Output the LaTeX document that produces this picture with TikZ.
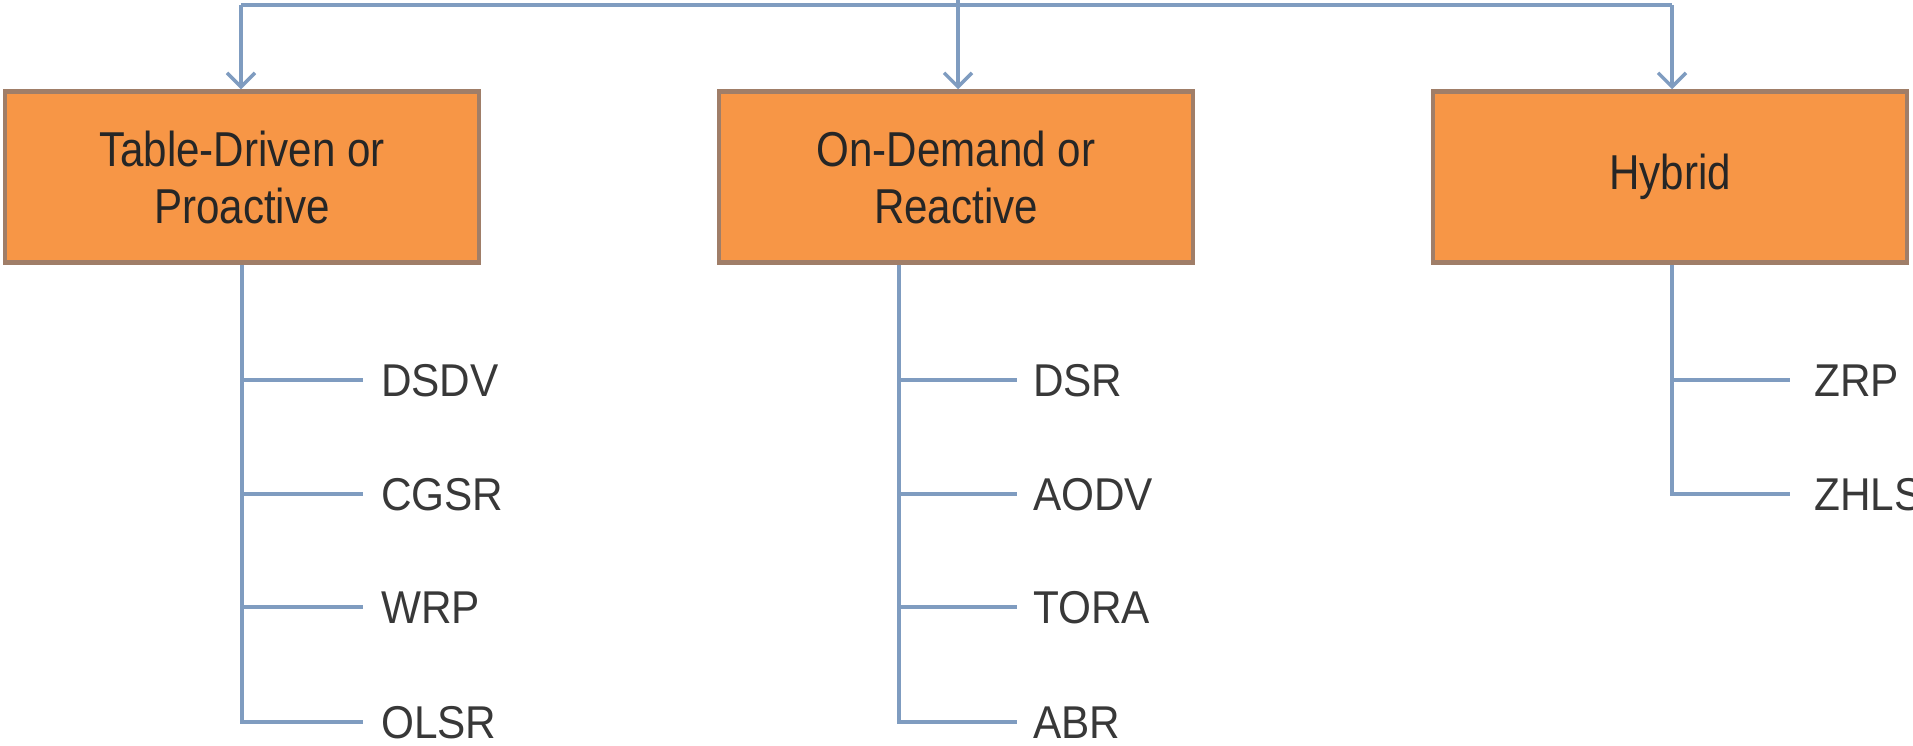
\documentclass[tikz,border=0pt]{standalone}
\usepackage{fontspec}
\newfontfamily\boxfont{Liberation Sans}[FakeStretch=0.86]
\newfontfamily\labelfont{Liberation Sans}[FakeStretch=0.92]
\usetikzlibrary{arrows.meta}
\definecolor{linkblue}{HTML}{7F9CC0}
\definecolor{boxfill}{HTML}{F79646}
\definecolor{boxedge}{HTML}{A07E68}
\definecolor{labelgray}{HTML}{383838}
\begin{document}
\begin{tikzpicture}[x=1pt,y=-1pt,
  link/.style={draw=linkblue,line width=4.5pt},
  arrowlink/.style={link,-{Straight Barb[length=14pt,width=28pt,line width=3.5pt]}},
  catbox/.style={draw=boxedge,fill=boxfill,line width=4.5pt,minimum width=474pt,
    minimum height=171pt,inner sep=0pt,align=center,
    font=\boxfont\fontsize{49}{57}\selectfont,text=black!85},
  proto/.style={anchor=base west,inner sep=0pt,
    font=\labelfont\fontsize{46}{52}\selectfont,text=labelgray},
  % point level with the middle of a label's capitals, a gap to its left
  lead/.style={xshift=-#1,yshift=16.5pt}]
\useasboundingbox (0,0) rectangle (1913,745);

% category boxes
\node[catbox] (tab) at (242,177) {Table-Driven or\\Proactive};
\node[catbox] (ond) at (956,177) {On-Demand or\\Reactive};
\node[catbox] (hyb) at (1670,177) {Hybrid};

% bus from the parent
\coordinate (top) at (958,0);
\coordinate (busl) at (241,5);
\coordinate (busr) at (1672,5);
\draw[link] (busl) -- (busr);
\draw[arrowlink] (top) -- (top |- ond.north);
\draw[arrowlink] (busl) -- (tab.north -| busl);
\draw[arrowlink] (busr) -- (hyb.north -| busr);

% proactive protocols (rows at 380, 494, 607, 722)
\node[proto] (dsdv) at (381,396.5) {DSDV};
\node[proto] (cgsr) at (381,510.5) {CGSR};
\node[proto] (wrp)  at (381,623.5) {WRP};
\node[proto] (olsr) at (381,738.5) {OLSR};
\coordinate (tabx) at (242,0);
\draw[link] (tab.south -| tabx) |- ([lead=18pt]olsr.base west);
\foreach \n in {dsdv,cgsr,wrp}
  \draw[link] ([lead=0pt]\n.base west -| tabx) -- ([lead=18pt]\n.base west);

% reactive protocols
\node[proto] (dsr)  at (1033,396.5) {DSR};
\node[proto] (aodv) at (1033,510.5) {AODV};
\node[proto] (tora) at (1033,623.5) {TORA};
\node[proto] (abr)  at (1033,738.5) {ABR};
\coordinate (ondx) at (899,0);
\draw[link] (ond.south -| ondx) |- ([lead=16pt]abr.base west);
\foreach \n in {dsr,aodv,tora}
  \draw[link] ([lead=0pt]\n.base west -| ondx) -- ([lead=16pt]\n.base west);

% hybrid protocols
\node[proto] (zrp)  at (1814,396.5) {ZRP};
\node[proto] (zhls) at (1814,510.5) {ZHLS};
\coordinate (hybx) at (1672,0);
\draw[link] (hyb.south -| hybx) |- ([lead=24pt]zhls.base west);
\draw[link] ([lead=0pt]zrp.base west -| hybx) -- ([lead=24pt]zrp.base west);
\end{tikzpicture}
\end{document}
